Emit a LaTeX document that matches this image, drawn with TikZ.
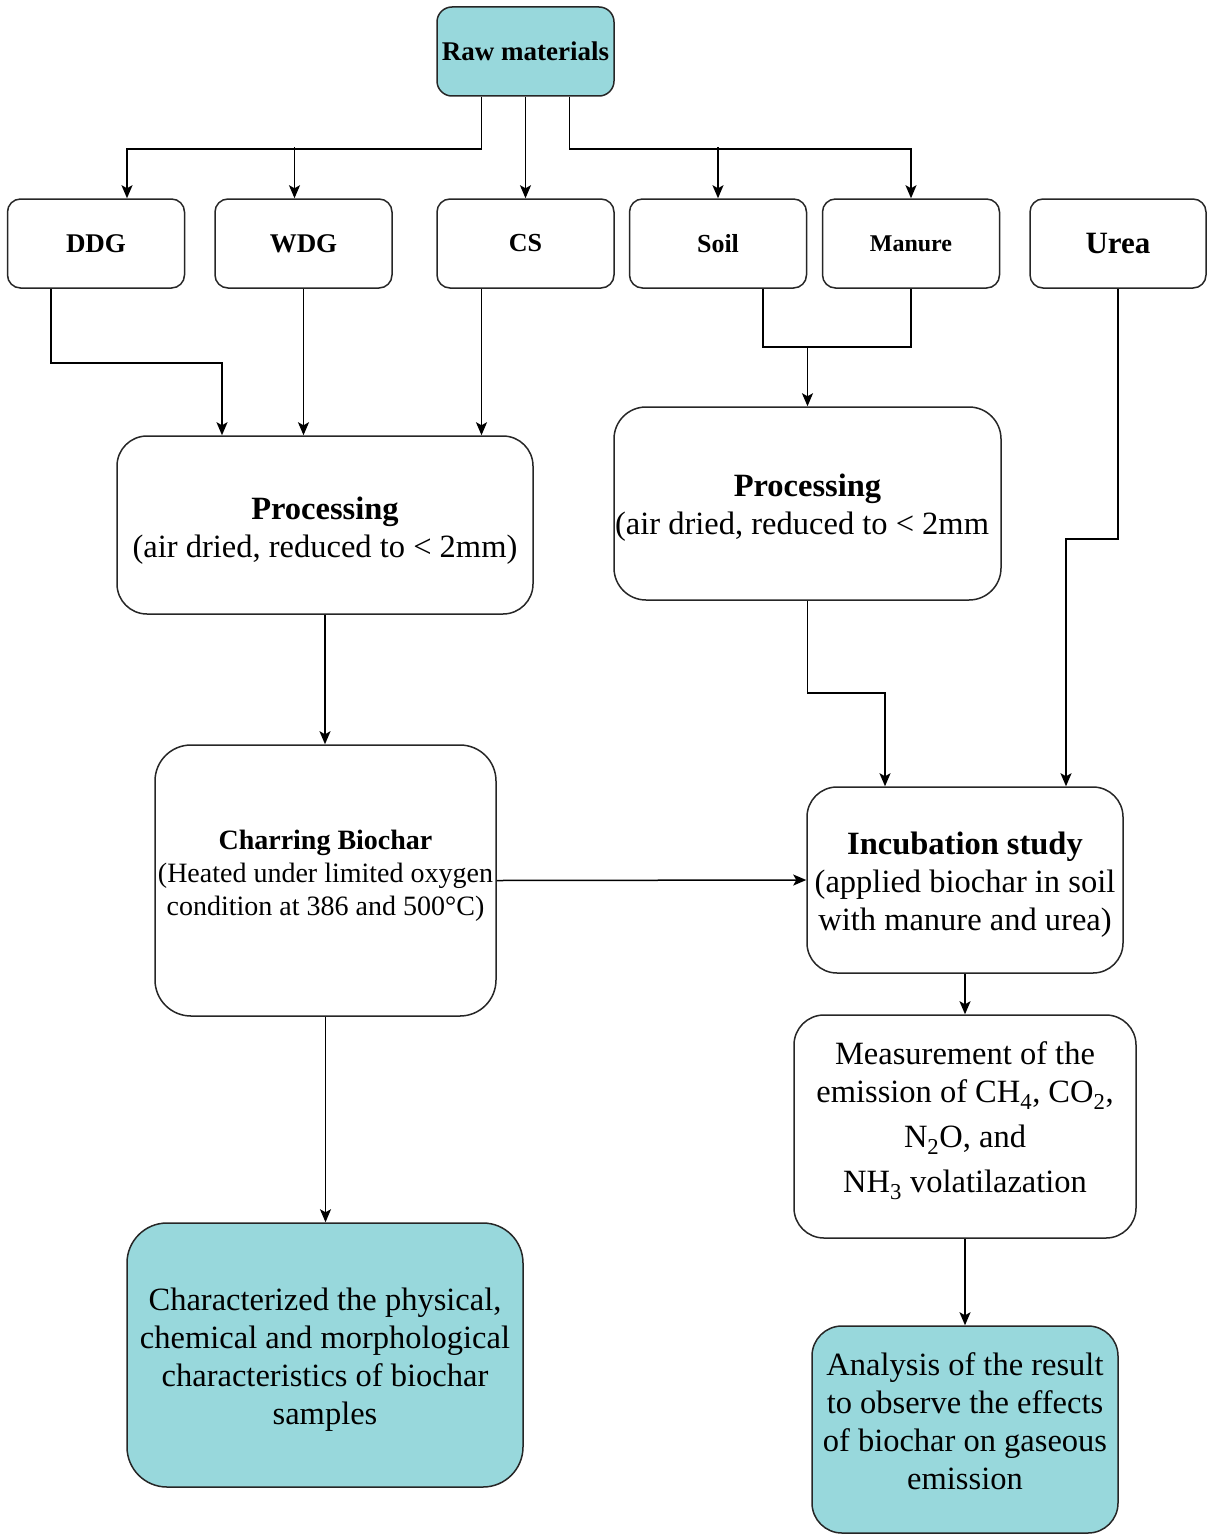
\documentclass[tikz,border=0pt]{standalone}
\usepackage{fontspec}
\setmainfont{Liberation Serif}
\usetikzlibrary{arrows.meta}
\definecolor{teal1}{RGB}{152,216,220}
\newcommand{\topstrut}[1]{\rule{0pt}{#1}}
\newcommand{\botstrut}[1]{\rule[-#1]{0pt}{#1}}
\begin{document}
\begin{tikzpicture}[x=1pt,y=-1pt,
  box/.style={draw=black!85, line width=1.5pt, align=center, inner sep=0pt, fill=white},
  topbox/.style={box, rounded corners=13pt, minimum width=177pt, minimum height=89pt, font=\bfseries\fontsize{27}{32}\selectfont},
  bigtext/.style={font=\fontsize{32.5}{38}\selectfont},
  arr/.style={line width=1.5pt, -{Stealth[length=13pt,width=11pt,inset=3pt]}},
  ln/.style={line width=1.5pt}]
\useasboundingbox (0,0) rectangle (1207,1536);

% top row
\node[topbox, fill=teal1, rounded corners=15pt] (raw) at (525.5,51.5) {Raw materials};
\node[topbox] (ddg) at (96,243.5) {DDG};
\node[topbox] (wdg) at (303.5,243.5) {WDG};
\node[topbox, font=\bfseries\fontsize{26}{30}\selectfont] (cs) at (525.5,243.5) {CS};
\node[topbox, font=\bfseries\fontsize{26}{30}\selectfont] (soil) at (718,243.5) {Soil};
\node[topbox, font=\bfseries\fontsize{24}{28}\selectfont] (manure) at (911,243.5) {Manure};
\node[topbox, font=\bfseries\fontsize{31}{36}\selectfont, minimum width=176pt] (urea) at (1118,243.5) {Urea};

% processing
\node[box, bigtext, rounded corners=30pt, minimum width=416pt, minimum height=178pt] (proc1) at (325,525)
  {\topstrut{33pt}\textbf{Processing}\\(air dried, reduced to < 2mm)};
\node[box, bigtext, rounded corners=32pt, minimum width=387pt, minimum height=193pt] (proc2) at (807.5,503.5)
  {\topstrut{31pt}\textbf{Processing}\\(air dried, reduced to < 2mm\hphantom{)}};

% charring
\node[box, font=\fontsize{28}{33}\selectfont, rounded corners=36pt, minimum width=341pt, minimum height=271pt] (char) at (325.5,880.5)
  {\textbf{Charring Biochar}\\(Heated under limited oxygen\\condition at 386 and 500°C)\botstrut{16pt}};

% incubation
\node[box, bigtext, rounded corners=30pt, minimum width=316pt, minimum height=186pt] (inc) at (965,880)
  {\topstrut{32pt}\textbf{Incubation study}\\(applied biochar in soil\\with manure and urea)};

% measurement
\node[box, bigtext, rounded corners=30pt, minimum width=342pt, minimum height=223pt] (meas) at (965,1126.5)
  {Measurement of the\\emission of CH\textsubscript{4}, CO\textsubscript{2},\\[7pt]N\textsubscript{2}O, and\\[7pt]NH\textsubscript{3} volatilazation\botstrut{18pt}};

% results
\node[box, bigtext, fill=teal1, rounded corners=40pt, minimum width=396pt, minimum height=264pt] (charac) at (325,1355)
  {\topstrut{32pt}Characterized the physical,\\chemical and morphological\\characteristics of biochar\\samples};
\node[box, bigtext, fill=teal1, rounded corners=30pt, minimum width=306pt, minimum height=207pt] (ana) at (965,1429.5)
  {Analysis of the result\\to observe the effects\\of biochar on gaseous\\emission\botstrut{16pt}};

% raw materials connectors
\coordinate (hl) at (0,147);
\draw[arr] ([xshift=-44pt]raw.south) -- ++(0,52) -| ([xshift=31pt]ddg.north);
\draw[arr] ([xshift=-9pt]wdg.north |- hl) -- ([xshift=-9pt]wdg.north);
\draw[arr] (raw.south) -- (cs.north);
\draw[arr] ([xshift=44pt]raw.south) -- ++(0,52) -| (manure.north);
\draw[arr] (soil.north |- hl) -- (soil.north);

% to processing 1
\draw[arr] ([xshift=-45pt]ddg.south) -- ++(0,74) -| ([xshift=-103pt]proc1.north);
\draw[arr] (wdg.south) -- (wdg.south |- proc1.north);
\draw[arr] ([xshift=-44pt]cs.south) -- ([xshift=-44pt]cs.south |- proc1.north);

% to processing 2
\coordinate (j) at (807.5,347);
\draw[ln] ([xshift=45pt]soil.south) |- (j) -- (j -| manure.south) -- (manure.south);
\draw[arr] (j) -- (proc2.north);

% urea and processing 2 to incubation
\draw[arr] (urea.south) -- ++(0,250) -| ([xshift=101pt]inc.north);
\draw[arr] (proc2.south) -- ++(0,92) -| ([xshift=-80pt]inc.north);

% chain
\draw[arr] (proc1.south) -- (proc1.south |- char.north);
\draw[arr] (char.east) -- (inc.west);
\draw[arr] (char.south) -- (char.south |- charac.north);
\draw[arr] (inc.south) -- (meas.north);
\draw[arr] (meas.south) -- (ana.north);
\end{tikzpicture}
\end{document}
